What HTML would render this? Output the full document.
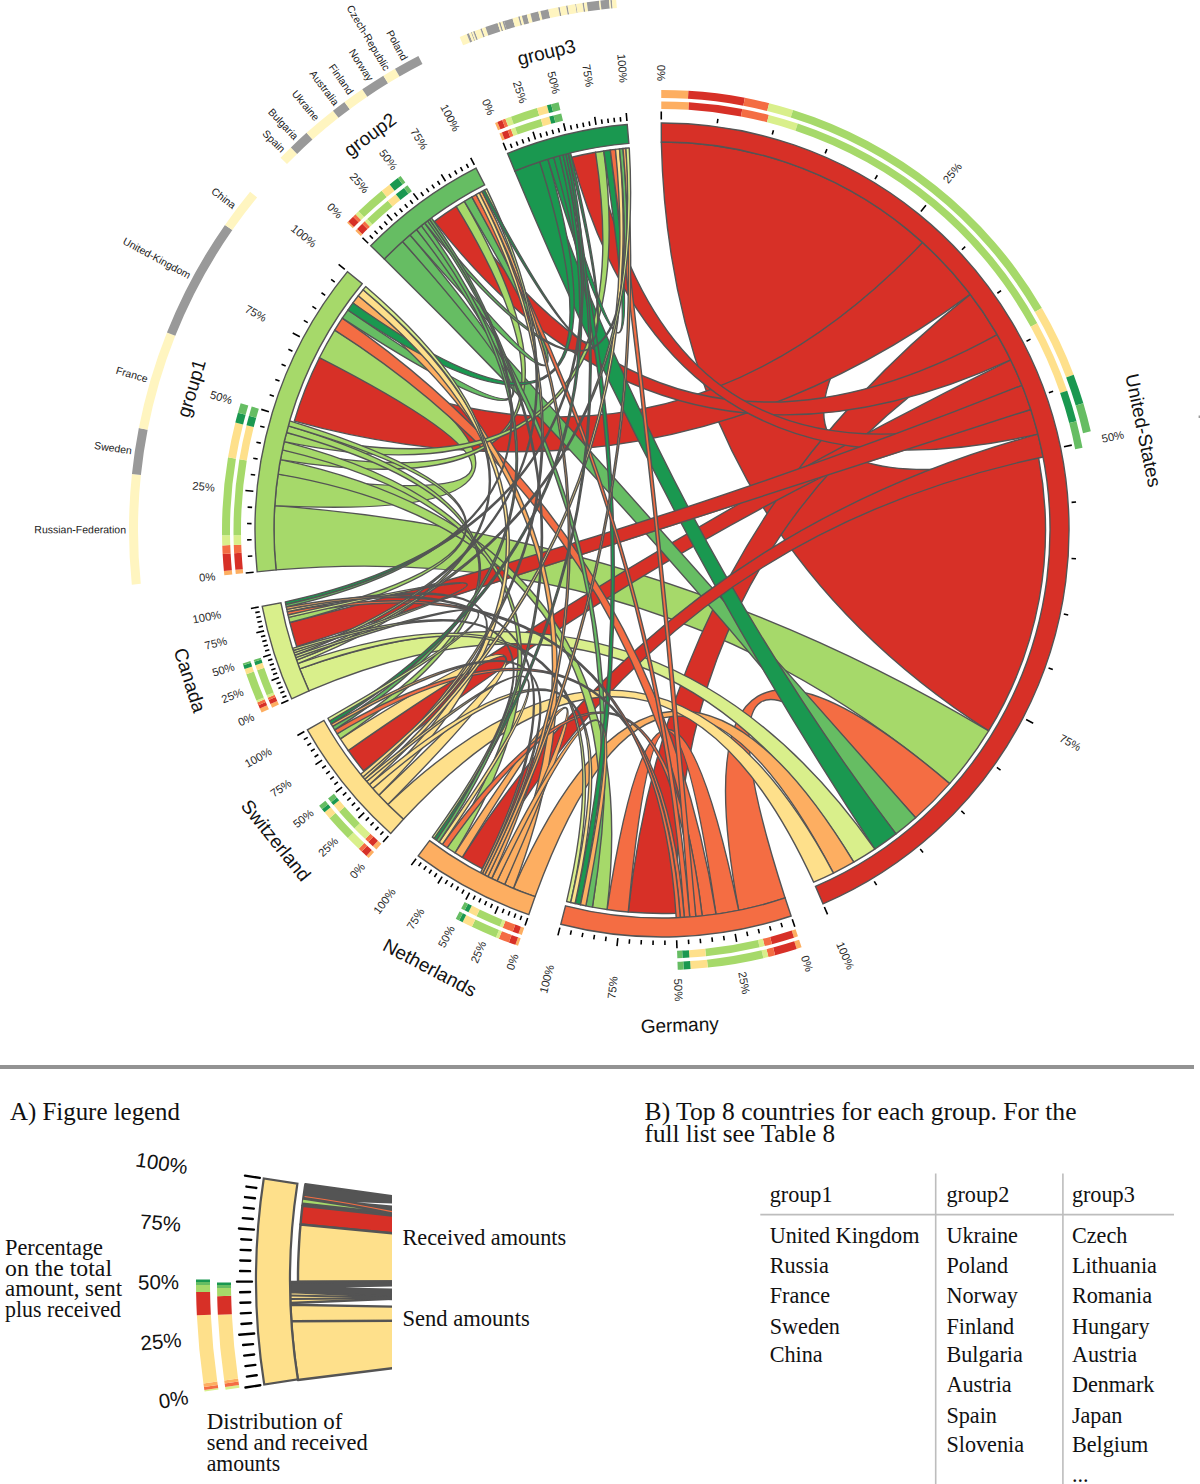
<!DOCTYPE html>
<html><head><meta charset="utf-8"><style>
html,body{margin:0;padding:0;background:#fff;}
body{width:1200px;height:1484px;position:relative;overflow:hidden;}
#chart{position:absolute;left:0;top:0;}
.hr{position:absolute;left:0;top:1065px;width:1194px;height:4px;background:#939393;}
.serif{font-family:"Liberation Serif",serif;color:#111;position:absolute;white-space:nowrap;}
</style></head><body>
<svg id="chart" width="1200" height="1060" viewBox="0 0 1200 1060">
<g stroke="#545454" stroke-width="1.4" stroke-linejoin="round"><path id="US-US" d="M661.32,142.00 A388.00,388.00 0 0 1 922.63,242.57 Q677.93,521.01 1038.64,457.81 A383.50,383.50 0 0 1 988.64,730.95 Q670.15,525.32 661.32,142.00 Z" fill="#d73027"/><path id="US-G1" d="M922.63,242.57 A388.00,388.00 0 0 1 970.23,294.34 Q660.51,521.39 294.29,421.08 A383.50,383.50 0 0 1 319.39,357.69 Q659.95,518.51 922.63,242.57 Z" fill="#d73027"/><path id="G1-US" d="M276.06,569.88 A388.00,388.00 0 0 1 274.77,505.64 Q660.49,534.41 988.64,730.95 A383.50,383.50 0 0 1 949.67,783.61 Q659.54,537.34 276.06,569.88 Z" fill="#a6d96a"/><path id="US-DE" d="M970.23,294.34 A388.00,388.00 0 0 1 997.17,334.54 Q670.73,534.69 676.05,913.24 A383.50,383.50 0 0 1 628.24,912.01 Q668.86,533.66 970.23,294.34 Z" fill="#d73027"/><path id="DE-US" d="M785.11,897.95 A388.00,388.00 0 0 1 738.69,910.35 Q671.11,545.85 949.67,783.61 A383.50,383.50 0 0 1 915.61,817.67 Q671.42,546.39 785.11,897.95 Z" fill="#f46d43"/><path id="G1-G1" d="M274.77,505.64 A388.00,388.00 0 0 1 278.04,474.12 Q643.84,524.30 319.39,357.69 A383.50,383.50 0 0 1 334.73,330.08 Q644.14,524.39 274.77,505.64 Z" fill="#a6d96a"/><path id="US-CH" d="M1010.73,359.91 A388.00,388.00 0 0 1 1022.00,385.28 Q663.54,532.40 363.54,770.82 A383.50,383.50 0 0 1 348.24,750.51 Q662.87,531.26 1010.73,359.91 Z" fill="#d73027"/><path id="US-G2" d="M997.17,334.54 A388.00,388.00 0 0 1 1010.73,359.91 Q665.03,518.03 434.42,221.32 A383.50,383.50 0 0 1 456.23,206.38 Q665.23,517.02 997.17,334.54 Z" fill="#d73027"/><path id="G2-US" d="M384.31,259.01 A388.00,388.00 0 0 1 402.53,241.52 Q661.85,529.98 915.61,817.67 A383.50,383.50 0 0 1 895.99,833.84 Q660.91,530.82 384.31,259.01 Z" fill="#66bd63"/><path id="G3-US" d="M514.77,171.02 A388.00,388.00 0 0 1 539.66,161.79 Q664.79,528.39 895.99,833.84 A383.50,383.50 0 0 1 874.78,849.05 Q663.64,529.00 514.77,171.02 Z" fill="#1a9850"/><path id="US-G3" d="M1030.80,409.46 A388.00,388.00 0 0 1 1037.98,434.16 Q669.15,518.29 571.82,157.25 A383.50,383.50 0 0 1 595.54,152.30 Q669.56,517.54 1030.80,409.46 Z" fill="#d73027"/><path id="CA-US" d="M308.94,690.90 A388.00,388.00 0 0 1 299.70,668.86 Q658.26,541.45 874.78,849.05 A383.50,383.50 0 0 1 853.75,862.12 Q657.97,542.33 308.94,690.90 Z" fill="#d9ef8b"/><path id="US-CA" d="M1022.00,385.28 A388.00,388.00 0 0 1 1030.80,409.46 Q662.09,529.90 296.65,646.60 A383.50,383.50 0 0 1 289.83,622.52 Q661.70,528.69 1022.00,385.28 Z" fill="#d73027"/><path id="NL-US" d="M535.04,896.64 A388.00,388.00 0 0 1 513.39,888.41 Q663.08,547.26 853.75,862.12 A383.50,383.50 0 0 1 833.42,873.06 Q663.11,547.74 535.04,896.64 Z" fill="#fdae61"/><path id="US-NL" d="M1037.98,434.16 A388.00,388.00 0 0 1 1043.06,456.96 Q667.03,536.64 482.13,868.70 A383.50,383.50 0 0 1 462.25,857.37 Q666.41,535.79 1037.98,434.16 Z" fill="#d73027"/><path id="DE-DE" d="M738.69,910.35 A388.00,388.00 0 0 1 716.00,914.22 Q662.51,549.16 628.24,912.01 A383.50,383.50 0 0 1 607.04,909.54 Q662.54,549.00 738.69,910.35 Z" fill="#f46d43"/><path id="CH-US" d="M403.39,819.24 A388.00,388.00 0 0 1 387.88,804.60 Q659.43,545.44 833.42,873.06 A383.50,383.50 0 0 1 813.69,882.22 Q659.33,546.04 403.39,819.24 Z" fill="#fee08b"/><path id="G1-DE" d="M278.04,474.12 A388.00,388.00 0 0 1 280.44,459.63 Q651.09,537.73 607.04,909.54 A383.50,383.50 0 0 1 592.44,907.14 Q650.66,538.03 278.04,474.12 Z" fill="#a6d96a"/><path id="DE-G1" d="M716.00,914.22 A388.00,388.00 0 0 1 702.22,915.91 Q654.82,534.65 334.73,330.08 A383.50,383.50 0 0 1 342.32,318.16 Q655.36,534.31 716.00,914.22 Z" fill="#f46d43"/><path id="CH-CH" d="M387.88,804.60 A388.00,388.00 0 0 1 378.79,795.21 Q647.08,542.14 348.24,750.51 A383.50,383.50 0 0 1 340.37,738.87 Q647.11,542.09 387.88,804.60 Z" fill="#fee08b"/><path id="G2-G1" d="M402.53,241.52 A388.00,388.00 0 0 1 410.07,234.92 Q647.71,517.33 342.32,318.16 A383.50,383.50 0 0 1 347.86,310.03 Q647.66,517.29 402.53,241.52 Z" fill="#66bd63"/><path id="G1-G2" d="M280.44,459.63 A388.00,388.00 0 0 1 282.35,449.93 Q647.36,519.91 456.23,206.38 A383.50,383.50 0 0 1 464.37,201.35 Q647.52,520.02 280.44,459.63 Z" fill="#a6d96a"/><path id="NL-G1" d="M513.39,888.41 A388.00,388.00 0 0 1 504.62,884.65 Q650.34,533.19 352.93,302.96 A383.50,383.50 0 0 1 358.32,295.80 Q650.69,533.11 513.39,888.41 Z" fill="#fdae61"/><path id="G1-NL" d="M282.35,449.93 A388.00,388.00 0 0 1 284.21,441.60 Q647.38,535.86 455.10,852.90 A383.50,383.50 0 0 1 447.22,847.71 Q647.14,535.94 282.35,449.93 Z" fill="#a6d96a"/><path id="G1-G3" d="M284.21,441.60 A388.00,388.00 0 0 1 286.44,432.52 Q650.95,518.12 595.54,152.30 A383.50,383.50 0 0 1 603.79,150.94 Q651.10,518.31 284.21,441.60 Z" fill="#a6d96a"/><path id="G3-G1" d="M539.66,161.79 A388.00,388.00 0 0 1 547.85,159.17 Q651.29,515.23 347.86,310.03 A383.50,383.50 0 0 1 352.93,302.96 Q651.21,515.12 539.66,161.79 Z" fill="#1a9850"/><path id="G2-G2" d="M410.07,234.92 A388.00,388.00 0 0 1 416.56,229.49 Q650.92,514.27 464.37,201.35 A383.50,383.50 0 0 1 471.88,196.95 Q650.95,514.30 410.07,234.92 Z" fill="#66bd63"/><path id="NL-NL" d="M504.62,884.65 A388.00,388.00 0 0 1 496.98,881.16 Q652.88,546.96 462.25,857.37 A383.50,383.50 0 0 1 455.10,852.90 Q652.89,546.94 504.62,884.65 Z" fill="#fdae61"/><path id="CH-G1" d="M378.79,795.21 A388.00,388.00 0 0 1 372.76,788.61 Q647.18,530.61 358.32,295.80 A383.50,383.50 0 0 1 363.12,289.70 Q647.45,530.62 378.79,795.21 Z" fill="#fee08b"/><path id="G1-CH" d="M286.44,432.52 A388.00,388.00 0 0 1 288.24,425.85 Q644.62,532.62 340.37,738.87 A383.50,383.50 0 0 1 337.13,733.79 Q644.49,532.66 286.44,432.52 Z" fill="#a6d96a"/><path id="G2-DE" d="M416.56,229.49 A388.00,388.00 0 0 1 421.37,225.63 Q654.25,531.82 592.44,907.14 A383.50,383.50 0 0 1 585.87,905.87 Q653.96,531.88 416.56,229.49 Z" fill="#66bd63"/><path id="G3-G3" d="M547.85,159.17 A388.00,388.00 0 0 1 553.75,157.41 Q657.84,511.21 603.79,150.94 A383.50,383.50 0 0 1 610.28,150.00 Q657.85,511.23 547.85,159.17 Z" fill="#1a9850"/><path id="DE-NL" d="M702.22,915.91 A388.00,388.00 0 0 1 695.82,916.52 Q657.48,547.61 447.22,847.71 A383.50,383.50 0 0 1 442.36,844.37 Q657.51,547.51 702.22,915.91 Z" fill="#f46d43"/><path id="G3-DE" d="M553.75,157.41 A388.00,388.00 0 0 1 559.49,155.79 Q657.40,530.01 580.50,904.74 A383.50,383.50 0 0 1 575.08,903.52 Q657.12,530.02 553.75,157.41 Z" fill="#1a9850"/><path id="NL-DE" d="M496.98,881.16 A388.00,388.00 0 0 1 491.67,878.61 Q655.84,548.11 585.87,905.87 A383.50,383.50 0 0 1 580.50,904.74 Q655.84,548.15 496.98,881.16 Z" fill="#fdae61"/><path id="DE-G3" d="M695.82,916.52 A388.00,388.00 0 0 1 689.74,917.01 Q661.40,530.18 610.28,150.00 A383.50,383.50 0 0 1 615.46,149.33 Q661.68,530.15 695.82,916.52 Z" fill="#f46d43"/><path id="G1-CA" d="M288.24,425.85 A388.00,388.00 0 0 1 289.65,420.91 Q643.39,529.59 289.83,622.52 A383.50,383.50 0 0 1 288.60,617.44 Q643.32,529.58 288.24,425.85 Z" fill="#a6d96a"/><path id="DE-G2" d="M689.74,917.01 A388.00,388.00 0 0 1 684.33,917.36 Q657.81,531.36 471.88,196.95 A383.50,383.50 0 0 1 476.13,194.55 Q658.05,531.29 689.74,917.01 Z" fill="#f46d43"/><path id="CA-DE" d="M299.70,668.86 A388.00,388.00 0 0 1 297.70,663.53 Q650.61,542.65 570.72,902.48 A383.50,383.50 0 0 1 566.63,901.45 Q650.56,542.76 299.70,668.86 Z" fill="#d9ef8b"/><path id="CH-DE" d="M372.76,788.61 A388.00,388.00 0 0 1 369.26,784.65 Q652.51,545.70 575.08,903.52 A383.50,383.50 0 0 1 570.72,902.48 Q652.49,545.78 372.76,788.61 Z" fill="#fee08b"/><path id="DE-CH" d="M684.33,917.36 A388.00,388.00 0 0 1 680.28,917.57 Q654.34,544.78 337.13,733.79 A383.50,383.50 0 0 1 334.66,729.81 Q654.37,544.68 684.33,917.36 Z" fill="#f46d43"/><path id="G2-CH" d="M421.37,225.63 A388.00,388.00 0 0 1 424.73,223.01 Q647.88,527.32 334.66,729.81 A383.50,383.50 0 0 1 332.59,726.37 Q647.75,527.30 421.37,225.63 Z" fill="#66bd63"/><path id="CH-G3" d="M369.26,784.65 A388.00,388.00 0 0 1 366.61,781.57 Q653.45,526.77 615.46,149.33 A383.50,383.50 0 0 1 619.52,148.86 Q653.62,526.84 369.26,784.65 Z" fill="#fee08b"/><path id="CA-G1" d="M297.70,663.53 A388.00,388.00 0 0 1 296.50,660.22 Q645.39,527.25 363.12,289.70 A383.50,383.50 0 0 1 365.66,286.58 Q645.48,527.25 297.70,663.53 Z" fill="#d9ef8b"/><path id="DE-CA" d="M680.28,917.57 A388.00,388.00 0 0 1 676.22,917.74 Q653.01,541.82 288.03,614.96 A383.50,383.50 0 0 1 287.30,611.70 Q653.09,541.73 680.28,917.57 Z" fill="#f46d43"/><path id="NL-G2" d="M491.67,878.61 A388.00,388.00 0 0 1 487.85,876.72 Q653.08,530.24 479.30,192.81 A383.50,383.50 0 0 1 482.08,191.33 Q653.24,530.25 491.67,878.61 Z" fill="#fdae61"/><path id="G3-CH" d="M559.49,155.79 A388.00,388.00 0 0 1 563.02,154.84 Q651.26,525.47 331.23,724.06 A383.50,383.50 0 0 1 329.45,721.00 Q651.12,525.42 559.49,155.79 Z" fill="#1a9850"/><path id="G2-G3" d="M424.73,223.01 A388.00,388.00 0 0 1 427.58,220.82 Q655.08,512.74 619.52,148.86 A383.50,383.50 0 0 1 622.98,148.49 Q655.09,512.79 424.73,223.01 Z" fill="#66bd63"/><path id="CH-NL" d="M366.61,781.57 A388.00,388.00 0 0 1 364.64,779.25 Q649.08,544.09 442.36,844.37 A383.50,383.50 0 0 1 439.08,842.06 Q649.04,544.09 366.61,781.57 Z" fill="#fee08b"/><path id="NL-G3" d="M487.85,876.72 A388.00,388.00 0 0 1 484.65,875.09 Q656.59,529.09 622.98,148.49 A383.50,383.50 0 0 1 625.91,148.20 Q656.74,529.12 487.85,876.72 Z" fill="#fdae61"/><path id="CH-G2" d="M364.64,779.25 A388.00,388.00 0 0 1 362.83,777.06 Q649.87,527.79 476.13,194.55 A383.50,383.50 0 0 1 479.30,192.81 Q650.00,527.80 364.64,779.25 Z" fill="#fee08b"/><path id="CA-G3" d="M296.50,660.22 A388.00,388.00 0 0 1 295.60,657.66 Q651.94,523.65 625.91,148.20 A383.50,383.50 0 0 1 629.24,147.90 Q652.04,523.70 296.50,660.22 Z" fill="#d9ef8b"/><path id="G3-NL" d="M563.02,154.84 A388.00,388.00 0 0 1 565.90,154.09 Q653.96,528.36 436.53,840.22 A383.50,383.50 0 0 1 434.05,838.40 Q653.83,528.33 563.02,154.84 Z" fill="#1a9850"/><path id="CH-CA" d="M362.83,777.06 A388.00,388.00 0 0 1 360.60,774.33 Q645.10,538.15 287.30,611.70 A383.50,383.50 0 0 1 286.80,609.34 Q645.14,538.16 362.83,777.06 Z" fill="#fee08b"/><path id="CA-CH" d="M295.60,657.66 A388.00,388.00 0 0 1 294.77,655.23 Q644.51,537.91 329.45,721.00 A383.50,383.50 0 0 1 327.89,718.26 Q644.49,537.90 295.60,657.66 Z" fill="#d9ef8b"/><path id="G2-NL" d="M427.58,220.82 A388.00,388.00 0 0 1 429.58,219.32 Q650.62,530.03 439.08,842.06 A383.50,383.50 0 0 1 436.53,840.22 Q650.50,530.03 427.58,220.82 Z" fill="#66bd63"/><path id="NL-CH" d="M484.65,875.09 A388.00,388.00 0 0 1 482.30,873.88 Q649.27,543.51 332.59,726.37 A383.50,383.50 0 0 1 331.23,724.06 Q649.30,543.48 484.65,875.09 Z" fill="#fdae61"/><path id="CA-G2" d="M294.77,655.23 A388.00,388.00 0 0 1 293.94,652.79 Q648.36,524.57 484.33,190.14 A383.50,383.50 0 0 1 486.70,188.91 Q648.44,524.60 294.77,655.23 Z" fill="#d9ef8b"/><path id="G3-CA" d="M565.90,154.09 A388.00,388.00 0 0 1 568.27,153.49 Q650.25,522.45 285.83,604.62 A383.50,383.50 0 0 1 285.29,601.86 Q650.18,522.40 565.90,154.09 Z" fill="#1a9850"/><path id="G3-G2" d="M568.27,153.49 A388.00,388.00 0 0 1 570.57,152.93 Q655.22,512.11 482.08,191.33 A383.50,383.50 0 0 1 484.33,190.14 Q655.21,512.09 568.27,153.49 Z" fill="#1a9850"/><path id="CA-CA" d="M293.94,652.79 A388.00,388.00 0 0 1 293.20,650.54 Q643.45,535.20 288.60,617.44 A383.50,383.50 0 0 1 288.03,614.96 Q643.45,535.19 293.94,652.79 Z" fill="#d9ef8b"/><path id="G2-CA" d="M429.58,219.32 A388.00,388.00 0 0 1 431.48,217.90 Q646.84,524.12 286.31,606.98 A383.50,383.50 0 0 1 285.83,604.62 Q646.79,524.10 429.58,219.32 Z" fill="#66bd63"/><path id="NL-CA" d="M482.30,873.88 A388.00,388.00 0 0 1 480.44,872.90 Q648.08,540.56 286.80,609.34 A383.50,383.50 0 0 1 286.31,606.98 Q648.12,540.52 482.30,873.88 Z" fill="#fdae61"/><path id="CA-NL" d="M293.20,650.54 A388.00,388.00 0 0 1 292.49,648.35 Q647.06,540.67 434.05,838.40 A383.50,383.50 0 0 1 432.27,837.08 Q647.04,540.69 293.20,650.54 Z" fill="#d9ef8b"/></g>
<g stroke="#545454" stroke-width="1.4"><path d="M661.29,123.00 A407.00,407.00 0 0 1 822.99,903.81 L815.47,886.36 A388.00,388.00 0 0 0 661.32,142.00 Z" fill="#d73027"/><path d="M791.14,915.97 A407.00,407.00 0 0 1 560.78,924.21 L565.51,905.81 A388.00,388.00 0 0 0 785.11,897.95 Z" fill="#f46d43"/><path d="M528.82,914.59 A407.00,407.00 0 0 1 418.20,855.90 L429.58,840.68 A388.00,388.00 0 0 0 535.04,896.64 Z" fill="#fdae61"/><path d="M390.72,833.41 A407.00,407.00 0 0 1 307.42,729.80 L323.97,720.47 A388.00,388.00 0 0 0 403.39,819.24 Z" fill="#fee08b"/><path d="M291.65,698.78 A407.00,407.00 0 0 1 262.21,606.26 L280.87,602.70 A388.00,388.00 0 0 0 308.94,690.90 Z" fill="#d9ef8b"/><path d="M257.16,571.84 A407.00,407.00 0 0 1 347.50,271.66 L362.18,283.72 A388.00,388.00 0 0 0 276.06,569.88 Z" fill="#a6d96a"/><path d="M370.71,245.74 A407.00,407.00 0 0 1 475.96,168.01 L484.65,184.91 A388.00,388.00 0 0 0 384.31,259.01 Z" fill="#66bd63"/><path d="M507.56,153.44 A407.00,407.00 0 0 1 627.24,124.49 L628.86,143.42 A388.00,388.00 0 0 0 514.77,171.02 Z" fill="#1a9850"/></g>
<path d="M661.28,119.50L661.27,111.50 M717.29,123.24L717.89,118.78 M772.25,134.58L773.46,130.25 M825.16,153.32L826.95,149.19 M875.02,179.10L877.35,175.25 M920.89,211.43L925.94,205.22 M961.93,249.73L965.22,246.65 M997.36,293.26L1001.03,290.66 M1026.51,341.22L1030.51,339.15 M1048.86,392.70L1053.10,391.20 M1063.97,446.76L1071.80,445.13 M1071.57,502.37L1076.06,502.06 M1071.51,558.49L1076.00,558.80 M1063.80,614.09L1068.20,615.01 M1048.57,668.11L1052.81,669.62 M1026.12,719.55L1033.21,723.24 M996.86,767.44L1000.53,770.05 M961.34,810.90L964.62,813.98 M920.22,849.11L923.06,852.61 M874.28,881.35L876.61,885.20 M824.37,907.02L827.54,914.37 M792.25,919.29L794.79,926.87 M781.02,922.87L782.33,927.17 M769.70,926.12L770.88,930.46 M758.28,929.05L759.34,933.42 M746.79,931.65L747.72,936.05 M735.22,933.92L736.65,941.79 M723.60,935.85L724.27,940.30 M711.92,937.45L712.47,941.92 M700.20,938.72L700.62,943.20 M688.45,939.65L688.74,944.14 M676.68,940.24L676.97,948.23 M664.90,940.49L664.93,944.99 M653.12,940.40L653.02,944.90 M641.34,939.98L641.11,944.47 M629.58,939.22L629.22,943.70 M617.84,938.12L616.98,946.07 M606.15,936.68L605.53,941.14 M594.50,934.91L593.76,939.35 M582.90,932.81L582.03,937.22 M571.37,930.37L570.38,934.76 M559.91,927.60L557.92,935.35 M527.68,917.90L525.06,925.46 M521.70,915.78L520.16,920.01 M515.76,913.57L514.16,917.77 M509.85,911.26L508.19,915.44 M503.98,908.87L502.25,913.02 M498.15,906.38L494.96,913.72 M492.36,903.81L490.50,907.90 M486.60,901.14L484.68,905.21 M480.89,898.39L478.91,902.43 M475.22,895.55L473.17,899.55 M469.60,892.62L465.85,899.68 M464.02,889.60L461.85,893.55 M458.49,886.50L456.26,890.41 M453.01,883.32L450.72,887.19 M447.58,880.05L445.22,883.88 M442.19,876.69L437.91,883.45 M436.87,873.26L434.40,877.02 M431.59,869.74L429.06,873.46 M426.37,866.14L423.79,869.82 M421.21,862.46L418.57,866.10 M416.10,858.70L411.31,865.11 M388.39,836.02L383.06,841.98 M383.40,831.49L380.35,834.79 M378.50,826.88L375.39,830.13 M373.66,822.19L370.50,825.39 M368.91,817.42L365.70,820.57 M364.23,812.57L358.43,818.08 M359.64,807.65L356.32,810.69 M355.12,802.65L351.76,805.64 M350.69,797.58L347.28,800.51 M346.34,792.43L342.88,795.31 M342.08,787.22L335.85,792.23 M337.91,781.94L334.35,784.70 M333.82,776.59L330.22,779.29 M329.81,771.17L326.17,773.81 M325.90,765.69L322.22,768.27 M322.08,760.14L315.46,764.63 M318.35,754.53L314.58,757.00 M314.71,748.87L310.91,751.27 M311.17,743.14L307.32,745.48 M307.72,737.36L303.84,739.63 M304.37,731.52L297.40,735.44 M288.46,700.23L281.18,703.55 M286.45,695.75L282.34,697.57 M284.50,691.25L280.36,693.02 M282.60,686.73L278.44,688.45 M280.75,682.18L276.57,683.85 M278.96,677.61L271.49,680.49 M277.22,673.02L273.00,674.59 M275.54,668.41L271.30,669.93 M273.91,663.78L269.66,665.25 M272.34,659.13L268.07,660.55 M270.82,654.46L263.20,656.89 M269.36,649.78L265.06,651.09 M267.96,645.08L263.64,646.34 M266.61,640.36L262.28,641.57 M265.32,635.62L260.97,636.78 M264.09,630.87L256.33,632.84 M262.91,626.11L258.53,627.16 M261.79,621.33L257.40,622.33 M260.73,616.54L256.33,617.49 M259.72,611.74L255.31,612.63 M258.77,606.92L250.91,608.42 M253.67,572.20L245.72,573.02 M252.33,556.03L247.83,556.31 M251.62,539.81L247.12,539.92 M251.55,523.59L247.05,523.52 M252.12,507.37L247.63,507.12 M253.34,491.19L245.37,490.43 M255.19,475.07L250.73,474.47 M257.68,459.03L253.25,458.26 M260.80,443.11L256.40,442.16 M264.55,427.32L260.19,426.20 M268.92,411.70L261.26,409.39 M273.90,396.25L269.65,394.79 M279.49,381.02L275.30,379.39 M285.68,366.02L281.55,364.22 M292.45,351.27L288.40,349.31 M299.80,336.81L292.74,333.04 M307.72,322.64L303.84,320.37 M316.19,308.80L312.40,306.38 M325.20,295.31L321.51,292.74 M334.74,282.18L331.16,279.47 M344.79,269.44L338.61,264.37 M368.21,243.30L362.48,237.71 M372.87,238.60L369.71,235.40 M377.62,233.97L374.50,230.72 M382.43,229.41L379.37,226.12 M387.32,224.94L384.31,221.59 M392.28,220.54L387.03,214.51 M397.31,216.23L394.41,212.79 M402.41,212.00L399.57,208.51 M407.58,207.85L404.79,204.32 M412.81,203.78L410.08,200.21 M418.11,199.80L413.36,193.37 M423.48,195.91L420.86,192.25 M428.90,192.10L426.34,188.40 M434.39,188.38L431.89,184.64 M439.93,184.75L437.50,180.97 M445.53,181.21L441.31,174.42 M451.19,177.76L448.88,173.90 M456.91,174.41L454.66,170.51 M462.67,171.14L460.49,167.21 M468.49,167.97L466.37,164.00 M474.36,164.89L470.70,157.78 M506.23,150.20L503.20,142.80 M512.02,147.88L510.37,143.69 M517.84,145.65L516.26,141.43 M523.69,143.50L522.17,139.27 M529.57,141.45L528.12,137.19 M535.49,139.48L533.02,131.87 M541.43,137.60L540.11,133.30 M547.41,135.82L546.15,131.50 M553.40,134.12L552.21,129.79 M559.43,132.52L558.30,128.16 M565.47,131.01L563.59,123.23 M571.54,129.59L570.55,125.20 M577.63,128.26L576.71,123.86 M583.74,127.03L582.89,122.61 M589.87,125.89L589.08,121.46 M596.02,124.84L594.73,116.94 M602.17,123.88L601.52,119.43 M608.35,123.02L607.76,118.56 M614.53,122.25L614.01,117.78 M620.73,121.58L620.28,117.10 M626.94,121.00L626.25,113.03" stroke="#000" stroke-width="1.6" fill="none"/>
<g><path d="M661.25,101.50 A428.50,428.50 0 0 1 689.01,102.35 L688.54,109.84 A421.00,421.00 0 0 0 661.27,109.00 Z" fill="#fdae61"/><path d="M689.01,102.35 A428.50,428.50 0 0 1 742.34,109.10 L740.93,116.46 A421.00,421.00 0 0 0 688.54,109.84 Z" fill="#d73027"/><path d="M742.34,109.10 A428.50,428.50 0 0 1 768.86,115.04 L766.99,122.30 A421.00,421.00 0 0 0 740.93,116.46 Z" fill="#f46d43"/><path d="M768.86,115.04 A428.50,428.50 0 0 1 797.76,123.58 L795.39,130.69 A421.00,421.00 0 0 0 766.99,122.30 Z" fill="#d9ef8b"/><path d="M797.76,123.58 A428.50,428.50 0 0 1 1037.30,323.22 L1030.73,326.83 A421.00,421.00 0 0 0 795.39,130.69 Z" fill="#a6d96a"/><path d="M1037.30,323.22 A428.50,428.50 0 0 1 1067.21,390.67 L1060.12,393.11 A421.00,421.00 0 0 0 1030.73,326.83 Z" fill="#fee08b"/><path d="M1067.21,390.67 A428.50,428.50 0 0 1 1076.46,421.21 L1069.20,423.11 A421.00,421.00 0 0 0 1060.12,393.11 Z" fill="#1a9850"/><path d="M1076.46,421.21 A428.50,428.50 0 0 1 1082.52,447.70 L1075.16,449.14 A421.00,421.00 0 0 0 1069.20,423.11 Z" fill="#66bd63"/><path d="M661.23,90.00 A440.00,440.00 0 0 1 688.47,90.80 L687.99,98.78 A432.00,432.00 0 0 0 661.25,98.00 Z" fill="#fdae61"/><path d="M688.47,90.80 A440.00,440.00 0 0 1 744.86,97.87 L743.35,105.73 A432.00,432.00 0 0 0 687.99,98.78 Z" fill="#d73027"/><path d="M744.86,97.87 A440.00,440.00 0 0 1 769.15,103.25 L767.20,111.01 A432.00,432.00 0 0 0 743.35,105.73 Z" fill="#f46d43"/><path d="M769.15,103.25 A440.00,440.00 0 0 1 793.10,109.99 L790.72,117.62 A432.00,432.00 0 0 0 767.20,111.01 Z" fill="#d9ef8b"/><path d="M793.10,109.99 A440.00,440.00 0 0 1 1041.85,307.93 L1034.94,311.96 A432.00,432.00 0 0 0 790.72,117.62 Z" fill="#a6d96a"/><path d="M1041.85,307.93 A440.00,440.00 0 0 1 1073.68,374.69 L1066.19,377.52 A432.00,432.00 0 0 0 1034.94,311.96 Z" fill="#fee08b"/><path d="M1073.68,374.69 A440.00,440.00 0 0 1 1083.37,403.31 L1075.70,405.61 A432.00,432.00 0 0 0 1066.19,377.52 Z" fill="#1a9850"/><path d="M1083.37,403.31 A440.00,440.00 0 0 1 1090.80,431.36 L1083.01,433.16 A432.00,432.00 0 0 0 1075.70,405.61 Z" fill="#66bd63"/><path d="M797.97,936.36 A428.50,428.50 0 0 1 793.99,937.67 L791.68,930.53 A421.00,421.00 0 0 0 795.59,929.24 Z" fill="#fdae61"/><path d="M793.99,937.67 A428.50,428.50 0 0 1 772.02,944.14 L770.09,936.89 A421.00,421.00 0 0 0 791.68,930.53 Z" fill="#d73027"/><path d="M772.02,944.14 A428.50,428.50 0 0 1 764.62,946.03 L762.83,938.75 A421.00,421.00 0 0 0 770.09,936.89 Z" fill="#f46d43"/><path d="M764.62,946.03 A428.50,428.50 0 0 1 759.59,947.24 L757.88,939.94 A421.00,421.00 0 0 0 762.83,938.75 Z" fill="#d9ef8b"/><path d="M759.59,947.24 A428.50,428.50 0 0 1 705.95,956.24 L705.18,948.78 A421.00,421.00 0 0 0 757.88,939.94 Z" fill="#a6d96a"/><path d="M705.95,956.24 A428.50,428.50 0 0 1 689.38,957.62 L688.90,950.14 A421.00,421.00 0 0 0 705.18,948.78 Z" fill="#fee08b"/><path d="M689.38,957.62 A428.50,428.50 0 0 1 682.50,958.01 L682.14,950.52 A421.00,421.00 0 0 0 688.90,950.14 Z" fill="#1a9850"/><path d="M682.50,958.01 A428.50,428.50 0 0 1 677.33,958.23 L677.06,950.73 A421.00,421.00 0 0 0 682.14,950.52 Z" fill="#66bd63"/><path d="M801.61,947.26 A440.00,440.00 0 0 1 796.70,948.88 L794.25,941.26 A432.00,432.00 0 0 0 799.08,939.68 Z" fill="#fdae61"/><path d="M796.70,948.88 A440.00,440.00 0 0 1 775.15,955.20 L773.09,947.47 A432.00,432.00 0 0 0 794.25,941.26 Z" fill="#d73027"/><path d="M775.15,955.20 A440.00,440.00 0 0 1 768.42,956.94 L766.49,949.17 A432.00,432.00 0 0 0 773.09,947.47 Z" fill="#f46d43"/><path d="M768.42,956.94 A440.00,440.00 0 0 1 763.40,958.16 L761.55,950.37 A432.00,432.00 0 0 0 766.49,949.17 Z" fill="#d9ef8b"/><path d="M763.40,958.16 A440.00,440.00 0 0 1 707.82,967.61 L706.99,959.65 A432.00,432.00 0 0 0 761.55,950.37 Z" fill="#a6d96a"/><path d="M707.82,967.61 A440.00,440.00 0 0 1 690.60,969.07 L690.08,961.09 A432.00,432.00 0 0 0 706.99,959.65 Z" fill="#fee08b"/><path d="M690.60,969.07 A440.00,440.00 0 0 1 683.67,969.47 L683.27,961.48 A432.00,432.00 0 0 0 690.08,961.09 Z" fill="#1a9850"/><path d="M683.67,969.47 A440.00,440.00 0 0 1 677.74,969.72 L677.45,961.72 A432.00,432.00 0 0 0 683.27,961.48 Z" fill="#66bd63"/><path d="M521.79,934.91 A428.50,428.50 0 0 1 518.41,933.73 L520.93,926.66 A421.00,421.00 0 0 0 524.24,927.82 Z" fill="#fdae61"/><path d="M518.41,933.73 A428.50,428.50 0 0 1 512.69,931.65 L515.31,924.62 A421.00,421.00 0 0 0 520.93,926.66 Z" fill="#d73027"/><path d="M512.69,931.65 A428.50,428.50 0 0 1 502.69,927.78 L505.48,920.82 A421.00,421.00 0 0 0 515.31,924.62 Z" fill="#f46d43"/><path d="M502.69,927.78 A428.50,428.50 0 0 1 499.68,926.57 L502.52,919.63 A421.00,421.00 0 0 0 505.48,920.82 Z" fill="#d9ef8b"/><path d="M499.68,926.57 A428.50,428.50 0 0 1 476.46,916.25 L479.71,909.49 A421.00,421.00 0 0 0 502.52,919.63 Z" fill="#a6d96a"/><path d="M476.46,916.25 A428.50,428.50 0 0 1 468.45,912.30 L471.84,905.60 A421.00,421.00 0 0 0 479.71,909.49 Z" fill="#fee08b"/><path d="M468.45,912.30 A428.50,428.50 0 0 1 464.62,910.33 L468.07,903.68 A421.00,421.00 0 0 0 471.84,905.60 Z" fill="#1a9850"/><path d="M464.62,910.33 A428.50,428.50 0 0 1 461.16,908.52 L464.68,901.89 A421.00,421.00 0 0 0 468.07,903.68 Z" fill="#66bd63"/><path d="M518.02,945.78 A440.00,440.00 0 0 1 515.39,944.86 L518.06,937.31 A432.00,432.00 0 0 0 520.64,938.22 Z" fill="#fdae61"/><path d="M515.39,944.86 A440.00,440.00 0 0 1 508.88,942.50 L511.66,935.00 A432.00,432.00 0 0 0 518.06,937.31 Z" fill="#d73027"/><path d="M508.88,942.50 A440.00,440.00 0 0 1 498.86,938.64 L501.82,931.21 A432.00,432.00 0 0 0 511.66,935.00 Z" fill="#f46d43"/><path d="M498.86,938.64 A440.00,440.00 0 0 1 495.96,937.47 L498.98,930.06 A432.00,432.00 0 0 0 501.82,931.21 Z" fill="#d9ef8b"/><path d="M495.96,937.47 A440.00,440.00 0 0 1 471.85,926.79 L475.31,919.58 A432.00,432.00 0 0 0 498.98,930.06 Z" fill="#a6d96a"/><path d="M471.85,926.79 A440.00,440.00 0 0 1 462.53,922.19 L466.15,915.06 A432.00,432.00 0 0 0 475.31,919.58 Z" fill="#fee08b"/><path d="M462.53,922.19 A440.00,440.00 0 0 1 459.14,920.45 L462.83,913.35 A432.00,432.00 0 0 0 466.15,915.06 Z" fill="#1a9850"/><path d="M459.14,920.45 A440.00,440.00 0 0 1 455.77,918.68 L459.52,911.61 A432.00,432.00 0 0 0 462.83,913.35 Z" fill="#66bd63"/><path d="M376.39,849.44 A428.50,428.50 0 0 1 372.85,846.23 L377.91,840.70 A421.00,421.00 0 0 0 381.39,843.85 Z" fill="#fdae61"/><path d="M372.85,846.23 A428.50,428.50 0 0 1 368.32,842.03 L373.46,836.57 A421.00,421.00 0 0 0 377.91,840.70 Z" fill="#d73027"/><path d="M368.32,842.03 A428.50,428.50 0 0 1 365.21,839.08 L370.41,833.67 A421.00,421.00 0 0 0 373.46,836.57 Z" fill="#f46d43"/><path d="M365.21,839.08 A428.50,428.50 0 0 1 354.46,828.38 L359.84,823.16 A421.00,421.00 0 0 0 370.41,833.67 Z" fill="#d9ef8b"/><path d="M354.46,828.38 A428.50,428.50 0 0 1 339.06,811.64 L344.71,806.71 A421.00,421.00 0 0 0 359.84,823.16 Z" fill="#a6d96a"/><path d="M339.06,811.64 A428.50,428.50 0 0 1 333.49,805.12 L339.24,800.31 A421.00,421.00 0 0 0 344.71,806.71 Z" fill="#fee08b"/><path d="M333.49,805.12 A428.50,428.50 0 0 1 331.07,802.20 L336.86,797.44 A421.00,421.00 0 0 0 339.24,800.31 Z" fill="#1a9850"/><path d="M331.07,802.20 A428.50,428.50 0 0 1 328.05,798.50 L333.90,793.80 A421.00,421.00 0 0 0 336.86,797.44 Z" fill="#66bd63"/><path d="M368.73,858.01 A440.00,440.00 0 0 1 366.36,855.88 L371.74,849.96 A432.00,432.00 0 0 0 374.06,852.05 Z" fill="#fdae61"/><path d="M366.36,855.88 A440.00,440.00 0 0 1 361.71,851.60 L367.17,845.76 A432.00,432.00 0 0 0 371.74,849.96 Z" fill="#d73027"/><path d="M361.71,851.60 A440.00,440.00 0 0 1 358.77,848.83 L364.28,843.03 A432.00,432.00 0 0 0 367.17,845.76 Z" fill="#f46d43"/><path d="M358.77,848.83 A440.00,440.00 0 0 1 347.84,838.06 L353.55,832.46 A432.00,432.00 0 0 0 364.28,843.03 Z" fill="#d9ef8b"/><path d="M347.84,838.06 A440.00,440.00 0 0 1 329.48,818.15 L335.53,812.91 A432.00,432.00 0 0 0 353.55,832.46 Z" fill="#a6d96a"/><path d="M329.48,818.15 A440.00,440.00 0 0 1 324.52,812.32 L330.65,807.19 A432.00,432.00 0 0 0 335.53,812.91 Z" fill="#fee08b"/><path d="M324.52,812.32 A440.00,440.00 0 0 1 321.94,809.21 L328.12,804.13 A432.00,432.00 0 0 0 330.65,807.19 Z" fill="#1a9850"/><path d="M321.94,809.21 A440.00,440.00 0 0 1 319.09,805.71 L325.33,800.69 A432.00,432.00 0 0 0 328.12,804.13 Z" fill="#66bd63"/><path d="M272.08,707.70 A428.50,428.50 0 0 1 270.44,704.06 L277.30,701.01 A421.00,421.00 0 0 0 278.91,704.59 Z" fill="#fdae61"/><path d="M270.44,704.06 A428.50,428.50 0 0 1 268.66,699.98 L275.54,697.00 A421.00,421.00 0 0 0 277.30,701.01 Z" fill="#d73027"/><path d="M268.66,699.98 A428.50,428.50 0 0 1 267.67,697.67 L274.57,694.74 A421.00,421.00 0 0 0 275.54,697.00 Z" fill="#f46d43"/><path d="M267.67,697.67 A428.50,428.50 0 0 1 266.69,695.36 L273.61,692.47 A421.00,421.00 0 0 0 274.57,694.74 Z" fill="#d9ef8b"/><path d="M266.69,695.36 A428.50,428.50 0 0 1 257.12,670.31 L264.21,667.86 A421.00,421.00 0 0 0 273.61,692.47 Z" fill="#a6d96a"/><path d="M257.12,670.31 A428.50,428.50 0 0 1 255.36,665.13 L262.48,662.76 A421.00,421.00 0 0 0 264.21,667.86 Z" fill="#fee08b"/><path d="M255.36,665.13 A428.50,428.50 0 0 1 254.28,661.82 L261.42,659.52 A421.00,421.00 0 0 0 262.48,662.76 Z" fill="#1a9850"/><path d="M254.28,661.82 A428.50,428.50 0 0 1 253.67,659.92 L260.82,657.65 A421.00,421.00 0 0 0 261.42,659.52 Z" fill="#66bd63"/><path d="M261.62,712.47 A440.00,440.00 0 0 1 259.79,708.39 L267.10,705.15 A432.00,432.00 0 0 0 268.90,709.15 Z" fill="#fdae61"/><path d="M259.79,708.39 A440.00,440.00 0 0 1 258.39,705.21 L265.73,702.03 A432.00,432.00 0 0 0 267.10,705.15 Z" fill="#d73027"/><path d="M258.39,705.21 A440.00,440.00 0 0 1 257.21,702.46 L264.57,699.33 A432.00,432.00 0 0 0 265.73,702.03 Z" fill="#f46d43"/><path d="M257.21,702.46 A440.00,440.00 0 0 1 256.43,700.62 L263.80,697.52 A432.00,432.00 0 0 0 264.57,699.33 Z" fill="#d9ef8b"/><path d="M256.43,700.62 A440.00,440.00 0 0 1 246.31,674.23 L253.87,671.61 A432.00,432.00 0 0 0 263.80,697.52 Z" fill="#a6d96a"/><path d="M246.31,674.23 A440.00,440.00 0 0 1 244.55,669.06 L252.14,666.53 A432.00,432.00 0 0 0 253.87,671.61 Z" fill="#fee08b"/><path d="M244.55,669.06 A440.00,440.00 0 0 1 243.32,665.31 L250.93,662.85 A432.00,432.00 0 0 0 252.14,666.53 Z" fill="#1a9850"/><path d="M243.32,665.31 A440.00,440.00 0 0 1 242.71,663.41 L250.34,660.98 A432.00,432.00 0 0 0 250.93,662.85 Z" fill="#66bd63"/><path d="M235.77,574.05 A428.50,428.50 0 0 1 235.36,569.83 L242.82,569.13 A421.00,421.00 0 0 0 243.23,573.28 Z" fill="#fdae61"/><path d="M235.36,569.83 A428.50,428.50 0 0 1 234.13,553.28 L241.62,552.87 A421.00,421.00 0 0 0 242.82,569.13 Z" fill="#d73027"/><path d="M234.13,553.28 A428.50,428.50 0 0 1 233.76,544.99 L241.26,544.72 A421.00,421.00 0 0 0 241.62,552.87 Z" fill="#f46d43"/><path d="M233.76,544.99 A428.50,428.50 0 0 1 233.53,535.16 L241.03,535.07 A421.00,421.00 0 0 0 241.26,544.72 Z" fill="#d9ef8b"/><path d="M233.53,535.16 A428.50,428.50 0 0 1 239.38,459.26 L246.78,460.50 A421.00,421.00 0 0 0 241.03,535.07 Z" fill="#a6d96a"/><path d="M239.38,459.26 A428.50,428.50 0 0 1 246.49,425.28 L253.77,427.12 A421.00,421.00 0 0 0 246.78,460.50 Z" fill="#fee08b"/><path d="M246.49,425.28 A428.50,428.50 0 0 1 249.00,415.78 L256.23,417.78 A421.00,421.00 0 0 0 253.77,427.12 Z" fill="#1a9850"/><path d="M249.00,415.78 A428.50,428.50 0 0 1 251.68,406.51 L258.86,408.67 A421.00,421.00 0 0 0 256.23,417.78 Z" fill="#66bd63"/><path d="M224.33,575.23 A440.00,440.00 0 0 1 223.91,570.90 L231.87,570.16 A432.00,432.00 0 0 0 232.29,574.41 Z" fill="#fdae61"/><path d="M223.91,570.90 A440.00,440.00 0 0 1 222.65,553.90 L230.64,553.47 A432.00,432.00 0 0 0 231.87,570.16 Z" fill="#d73027"/><path d="M222.65,553.90 A440.00,440.00 0 0 1 222.27,545.39 L230.26,545.11 A432.00,432.00 0 0 0 230.64,553.47 Z" fill="#f46d43"/><path d="M222.27,545.39 A440.00,440.00 0 0 1 222.03,535.30 L230.03,535.21 A432.00,432.00 0 0 0 230.26,545.11 Z" fill="#d9ef8b"/><path d="M222.03,535.30 A440.00,440.00 0 0 1 228.04,457.36 L235.93,458.68 A432.00,432.00 0 0 0 230.03,535.21 Z" fill="#a6d96a"/><path d="M228.04,457.36 A440.00,440.00 0 0 1 235.34,422.47 L243.10,424.43 A432.00,432.00 0 0 0 235.93,458.68 Z" fill="#fee08b"/><path d="M235.34,422.47 A440.00,440.00 0 0 1 237.92,412.72 L245.63,414.85 A432.00,432.00 0 0 0 243.10,424.43 Z" fill="#1a9850"/><path d="M237.92,412.72 A440.00,440.00 0 0 1 240.67,403.19 L248.33,405.50 A432.00,432.00 0 0 0 245.63,414.85 Z" fill="#66bd63"/><path d="M355.33,230.73 A428.50,428.50 0 0 1 357.11,228.91 L362.45,234.18 A421.00,421.00 0 0 0 360.69,235.97 Z" fill="#fdae61"/><path d="M357.11,228.91 A428.50,428.50 0 0 1 362.28,223.76 L367.53,229.12 A421.00,421.00 0 0 0 362.45,234.18 Z" fill="#d73027"/><path d="M362.28,223.76 A428.50,428.50 0 0 1 364.75,221.37 L369.95,226.77 A421.00,421.00 0 0 0 367.53,229.12 Z" fill="#f46d43"/><path d="M364.75,221.37 A428.50,428.50 0 0 1 367.24,218.99 L372.40,224.43 A421.00,421.00 0 0 0 369.95,226.77 Z" fill="#d9ef8b"/><path d="M367.24,218.99 A428.50,428.50 0 0 1 387.82,200.70 L392.62,206.47 A421.00,421.00 0 0 0 372.40,224.43 Z" fill="#a6d96a"/><path d="M387.82,200.70 A428.50,428.50 0 0 1 395.83,194.19 L400.49,200.07 A421.00,421.00 0 0 0 392.62,206.47 Z" fill="#fee08b"/><path d="M395.83,194.19 A428.50,428.50 0 0 1 404.00,187.88 L408.51,193.87 A421.00,421.00 0 0 0 400.49,200.07 Z" fill="#1a9850"/><path d="M404.00,187.88 A428.50,428.50 0 0 1 407.42,185.33 L411.88,191.36 A421.00,421.00 0 0 0 408.51,193.87 Z" fill="#66bd63"/><path d="M347.10,222.70 A440.00,440.00 0 0 1 348.29,221.48 L353.99,227.09 A432.00,432.00 0 0 0 352.82,228.28 Z" fill="#fdae61"/><path d="M348.29,221.48 A440.00,440.00 0 0 1 353.11,216.65 L358.72,222.35 A432.00,432.00 0 0 0 353.99,227.09 Z" fill="#d73027"/><path d="M353.11,216.65 A440.00,440.00 0 0 1 355.54,214.27 L361.12,220.01 A432.00,432.00 0 0 0 358.72,222.35 Z" fill="#f46d43"/><path d="M355.54,214.27 A440.00,440.00 0 0 1 358.62,211.32 L364.13,217.11 A432.00,432.00 0 0 0 361.12,220.01 Z" fill="#d9ef8b"/><path d="M358.62,211.32 A440.00,440.00 0 0 1 381.67,190.86 L386.77,197.03 A432.00,432.00 0 0 0 364.13,217.11 Z" fill="#a6d96a"/><path d="M381.67,190.86 A440.00,440.00 0 0 1 389.69,184.39 L394.64,190.67 A432.00,432.00 0 0 0 386.77,197.03 Z" fill="#fee08b"/><path d="M389.69,184.39 A440.00,440.00 0 0 1 397.85,178.11 L402.65,184.51 A432.00,432.00 0 0 0 394.64,190.67 Z" fill="#1a9850"/><path d="M397.85,178.11 A440.00,440.00 0 0 1 400.59,176.07 L405.34,182.51 A432.00,432.00 0 0 0 402.65,184.51 Z" fill="#66bd63"/><path d="M499.40,133.55 A428.50,428.50 0 0 1 501.87,132.55 L504.67,139.50 A421.00,421.00 0 0 0 502.25,140.49 Z" fill="#fdae61"/><path d="M501.87,132.55 A428.50,428.50 0 0 1 507.61,130.28 L510.31,137.28 A421.00,421.00 0 0 0 504.67,139.50 Z" fill="#d73027"/><path d="M507.61,130.28 A428.50,428.50 0 0 1 510.88,129.03 L513.53,136.05 A421.00,421.00 0 0 0 510.31,137.28 Z" fill="#f46d43"/><path d="M510.88,129.03 A428.50,428.50 0 0 1 515.02,127.50 L517.60,134.54 A421.00,421.00 0 0 0 513.53,136.05 Z" fill="#d9ef8b"/><path d="M515.02,127.50 A428.50,428.50 0 0 1 540.86,118.98 L542.98,126.17 A421.00,421.00 0 0 0 517.60,134.54 Z" fill="#a6d96a"/><path d="M540.86,118.98 A428.50,428.50 0 0 1 549.29,116.59 L551.27,123.82 A421.00,421.00 0 0 0 542.98,126.17 Z" fill="#fee08b"/><path d="M549.29,116.59 A428.50,428.50 0 0 1 553.56,115.45 L555.46,122.70 A421.00,421.00 0 0 0 551.27,123.82 Z" fill="#1a9850"/><path d="M553.56,115.45 A428.50,428.50 0 0 1 561.24,113.51 L563.01,120.80 A421.00,421.00 0 0 0 555.46,122.70 Z" fill="#66bd63"/><path d="M495.04,122.91 A440.00,440.00 0 0 1 497.39,121.95 L500.39,129.37 A432.00,432.00 0 0 0 498.07,130.31 Z" fill="#fdae61"/><path d="M497.39,121.95 A440.00,440.00 0 0 1 502.18,120.05 L505.09,127.51 A432.00,432.00 0 0 0 500.39,129.37 Z" fill="#d73027"/><path d="M502.18,120.05 A440.00,440.00 0 0 1 505.36,118.83 L508.21,126.30 A432.00,432.00 0 0 0 505.09,127.51 Z" fill="#f46d43"/><path d="M505.36,118.83 A440.00,440.00 0 0 1 511.00,116.72 L513.75,124.24 A432.00,432.00 0 0 0 508.21,126.30 Z" fill="#d9ef8b"/><path d="M511.00,116.72 A440.00,440.00 0 0 1 537.03,108.12 L539.31,115.79 A432.00,432.00 0 0 0 513.75,124.24 Z" fill="#a6d96a"/><path d="M537.03,108.12 A440.00,440.00 0 0 1 546.94,105.31 L549.03,113.03 A432.00,432.00 0 0 0 539.31,115.79 Z" fill="#fee08b"/><path d="M546.94,105.31 A440.00,440.00 0 0 1 551.08,104.21 L553.10,111.95 A432.00,432.00 0 0 0 549.03,113.03 Z" fill="#1a9850"/><path d="M551.08,104.21 A440.00,440.00 0 0 1 558.54,102.34 L560.42,110.11 A432.00,432.00 0 0 0 553.10,111.95 Z" fill="#66bd63"/></g>
<g font-family="Liberation Sans, sans-serif" font-size="11.3" fill="#2a2a2a"><text x="661.2" y="81.0" transform="rotate(89.9 661.2 81.0)" text-anchor="end" dominant-baseline="central">0%</text><text x="945.2" y="181.6" transform="rotate(-50.9 945.2 181.6)" text-anchor="start" dominant-baseline="central">25%</text><text x="1101.7" y="438.9" transform="rotate(-11.7 1101.7 438.9)" text-anchor="start" dominant-baseline="central">50%</text><text x="1060.3" y="737.3" transform="rotate(27.5 1060.3 737.3)" text-anchor="start" dominant-baseline="central">75%</text><text x="839.6" y="942.4" transform="rotate(66.7 839.6 942.4)" text-anchor="start" dominant-baseline="central">100%</text><text x="804.5" y="955.8" transform="rotate(71.5 804.5 955.8)" text-anchor="start" dominant-baseline="central">0%</text><text x="742.1" y="971.8" transform="rotate(79.7 742.1 971.8)" text-anchor="start" dominant-baseline="central">25%</text><text x="678.1" y="978.7" transform="rotate(87.9 678.1 978.7)" text-anchor="start" dominant-baseline="central">50%</text><text x="613.7" y="976.4" transform="rotate(-83.8 613.7 976.4)" text-anchor="end" dominant-baseline="central">75%</text><text x="550.3" y="964.9" transform="rotate(-75.6 550.3 964.9)" text-anchor="end" dominant-baseline="central">100%</text><text x="515.1" y="954.3" transform="rotate(-70.9 515.1 954.3)" text-anchor="end" dominant-baseline="central">0%</text><text x="482.8" y="941.7" transform="rotate(-66.5 482.8 941.7)" text-anchor="end" dominant-baseline="central">25%</text><text x="451.6" y="926.6" transform="rotate(-62.1 451.6 926.6)" text-anchor="end" dominant-baseline="central">50%</text><text x="421.6" y="909.2" transform="rotate(-57.6 421.6 909.2)" text-anchor="end" dominant-baseline="central">75%</text><text x="393.0" y="889.5" transform="rotate(-53.2 393.0 889.5)" text-anchor="end" dominant-baseline="central">100%</text><text x="362.7" y="864.7" transform="rotate(-48.2 362.7 864.7)" text-anchor="end" dominant-baseline="central">0%</text><text x="336.3" y="839.1" transform="rotate(-43.5 336.3 839.1)" text-anchor="end" dominant-baseline="central">25%</text><text x="312.1" y="811.3" transform="rotate(-38.8 312.1 811.3)" text-anchor="end" dominant-baseline="central">50%</text><text x="290.2" y="781.7" transform="rotate(-34.1 290.2 781.7)" text-anchor="end" dominant-baseline="central">75%</text><text x="270.8" y="750.4" transform="rotate(-29.4 270.8 750.4)" text-anchor="end" dominant-baseline="central">100%</text><text x="253.4" y="716.2" transform="rotate(-24.5 253.4 716.2)" text-anchor="end" dominant-baseline="central">0%</text><text x="243.0" y="691.5" transform="rotate(-21.1 243.0 691.5)" text-anchor="end" dominant-baseline="central">25%</text><text x="234.1" y="666.1" transform="rotate(-17.7 234.1 666.1)" text-anchor="end" dominant-baseline="central">50%</text><text x="226.8" y="640.3" transform="rotate(-14.2 226.8 640.3)" text-anchor="end" dominant-baseline="central">75%</text><text x="221.0" y="614.1" transform="rotate(-10.8 221.0 614.1)" text-anchor="end" dominant-baseline="central">100%</text><text x="215.4" y="576.2" transform="rotate(-5.9 215.4 576.2)" text-anchor="end" dominant-baseline="central">0%</text><text x="215.0" y="487.6" transform="rotate(5.4 215.0 487.6)" text-anchor="end" dominant-baseline="central">25%</text><text x="232.1" y="400.6" transform="rotate(16.8 232.1 400.6)" text-anchor="end" dominant-baseline="central">50%</text><text x="265.8" y="318.7" transform="rotate(28.1 265.8 318.7)" text-anchor="end" dominant-baseline="central">75%</text><text x="315.0" y="245.0" transform="rotate(39.4 315.0 245.0)" text-anchor="end" dominant-baseline="central">100%</text><text x="340.7" y="216.4" transform="rotate(44.3 340.7 216.4)" text-anchor="end" dominant-baseline="central">0%</text><text x="367.0" y="191.5" transform="rotate(48.9 367.0 191.5)" text-anchor="end" dominant-baseline="central">25%</text><text x="395.2" y="168.8" transform="rotate(53.6 395.2 168.8)" text-anchor="end" dominant-baseline="central">50%</text><text x="425.2" y="148.5" transform="rotate(58.2 425.2 148.5)" text-anchor="end" dominant-baseline="central">75%</text><text x="456.8" y="130.7" transform="rotate(62.8 456.8 130.7)" text-anchor="end" dominant-baseline="central">100%</text><text x="491.6" y="114.6" transform="rotate(67.7 491.6 114.6)" text-anchor="end" dominant-baseline="central">0%</text><text x="523.6" y="102.9" transform="rotate(72.1 523.6 102.9)" text-anchor="end" dominant-baseline="central">25%</text><text x="556.4" y="93.6" transform="rotate(76.4 556.4 93.6)" text-anchor="end" dominant-baseline="central">50%</text><text x="589.8" y="86.8" transform="rotate(80.8 589.8 86.8)" text-anchor="end" dominant-baseline="central">75%</text><text x="623.6" y="82.6" transform="rotate(85.1 623.6 82.6)" text-anchor="end" dominant-baseline="central">100%</text></g>
<rect x="1198.6" y="415.5" width="1.4" height="2.5" fill="#9a9a9a"/>
<g font-family="Liberation Sans, sans-serif" font-size="19" fill="#111"><text x="1143.3" y="430.3" transform="rotate(78.3 1143.3 430.3)" text-anchor="middle" dominant-baseline="central">United-States</text><text x="679.7" y="1025.2" transform="rotate(-2.1 679.7 1025.2)" text-anchor="middle" dominant-baseline="central">Germany</text><text x="429.8" y="967.7" transform="rotate(27.9 429.8 967.7)" text-anchor="middle" dominant-baseline="central">Netherlands</text><text x="275.8" y="840.5" transform="rotate(51.2 275.8 840.5)" text-anchor="middle" dominant-baseline="central">Switzerland</text><text x="189.8" y="680.2" transform="rotate(72.3 189.8 680.2)" text-anchor="middle" dominant-baseline="central">Canada</text><text x="191.4" y="388.4" transform="rotate(-73.2 191.4 388.4)" text-anchor="middle" dominant-baseline="central">group1</text><text x="370.0" y="134.6" transform="rotate(-36.4 370.0 134.6)" text-anchor="middle" dominant-baseline="central">group2</text><text x="546.4" y="52.3" transform="rotate(-13.6 546.4 52.3)" text-anchor="middle" dominant-baseline="central">group3</text></g>
<g><path d="M131.82,584.79 A533.00,533.00 0 0 1 131.95,474.01 L140.90,474.95 A524.00,524.00 0 0 0 140.78,583.86 Z" fill="#fff5c0"/><path d="M131.95,474.01 A533.00,533.00 0 0 1 138.83,428.12 L147.66,429.84 A524.00,524.00 0 0 0 140.90,474.95 Z" fill="#999999"/><path d="M138.83,428.12 A533.00,533.00 0 0 1 166.94,332.49 L175.30,335.83 A524.00,524.00 0 0 0 147.66,429.84 Z" fill="#fff5c0"/><path d="M166.94,332.49 A533.00,533.00 0 0 1 224.97,224.89 L232.35,230.05 A524.00,524.00 0 0 0 175.30,335.83 Z" fill="#999999"/><path d="M224.97,224.89 A533.00,533.00 0 0 1 250.13,191.69 L257.09,197.40 A524.00,524.00 0 0 0 232.35,230.05 Z" fill="#fff5c0"/><path d="M280.54,157.74 A533.00,533.00 0 0 1 290.88,147.43 L297.14,153.89 A524.00,524.00 0 0 0 286.98,164.03 Z" fill="#fff5c0"/><path d="M290.88,147.43 A533.00,533.00 0 0 1 306.53,132.85 L312.53,139.55 A524.00,524.00 0 0 0 297.14,153.89 Z" fill="#999999"/><path d="M306.53,132.85 A533.00,533.00 0 0 1 332.97,110.68 L338.53,117.76 A524.00,524.00 0 0 0 312.53,139.55 Z" fill="#fff5c0"/><path d="M332.97,110.68 A533.00,533.00 0 0 1 344.44,101.93 L349.80,109.16 A524.00,524.00 0 0 0 338.53,117.76 Z" fill="#999999"/><path d="M344.44,101.93 A533.00,533.00 0 0 1 362.26,89.27 L367.32,96.71 A524.00,524.00 0 0 0 349.80,109.16 Z" fill="#fff5c0"/><path d="M362.26,89.27 A533.00,533.00 0 0 1 383.35,75.64 L388.05,83.31 A524.00,524.00 0 0 0 367.32,96.71 Z" fill="#999999"/><path d="M383.35,75.64 A533.00,533.00 0 0 1 395.02,68.69 L399.52,76.48 A524.00,524.00 0 0 0 388.05,83.31 Z" fill="#fff5c0"/><path d="M395.02,68.69 A533.00,533.00 0 0 1 418.37,55.94 L422.48,63.95 A524.00,524.00 0 0 0 399.52,76.48 Z" fill="#999999"/><path d="M459.67,36.90 A533.00,533.00 0 0 1 466.81,34.03 L470.10,42.40 A524.00,524.00 0 0 0 463.08,45.22 Z" fill="#fff5c0"/><path d="M466.81,34.03 A533.00,533.00 0 0 1 468.95,33.19 L472.21,41.58 A524.00,524.00 0 0 0 470.10,42.40 Z" fill="#999999"/><path d="M468.95,33.19 A533.00,533.00 0 0 1 471.09,32.36 L474.32,40.76 A524.00,524.00 0 0 0 472.21,41.58 Z" fill="#fff5c0"/><path d="M471.09,32.36 A533.00,533.00 0 0 1 471.81,32.09 L475.02,40.50 A524.00,524.00 0 0 0 474.32,40.76 Z" fill="#999999"/><path d="M471.81,32.09 A533.00,533.00 0 0 1 473.24,31.55 L476.42,39.96 A524.00,524.00 0 0 0 475.02,40.50 Z" fill="#fff5c0"/><path d="M473.24,31.55 A533.00,533.00 0 0 1 474.66,31.01 L477.83,39.43 A524.00,524.00 0 0 0 476.42,39.96 Z" fill="#999999"/><path d="M474.66,31.01 A533.00,533.00 0 0 1 480.38,28.90 L483.45,37.36 A524.00,524.00 0 0 0 477.83,39.43 Z" fill="#fff5c0"/><path d="M480.38,28.90 A533.00,533.00 0 0 1 481.81,28.38 L484.85,36.85 A524.00,524.00 0 0 0 483.45,37.36 Z" fill="#999999"/><path d="M481.81,28.38 A533.00,533.00 0 0 1 485.38,27.11 L488.36,35.61 A524.00,524.00 0 0 0 484.85,36.85 Z" fill="#fff5c0"/><path d="M485.38,27.11 A533.00,533.00 0 0 1 497.52,23.01 L500.30,31.57 A524.00,524.00 0 0 0 488.36,35.61 Z" fill="#999999"/><path d="M497.52,23.01 A533.00,533.00 0 0 1 498.95,22.55 L501.70,31.12 A524.00,524.00 0 0 0 500.30,31.57 Z" fill="#fff5c0"/><path d="M498.95,22.55 A533.00,533.00 0 0 1 500.38,22.10 L503.11,30.67 A524.00,524.00 0 0 0 501.70,31.12 Z" fill="#999999"/><path d="M500.38,22.10 A533.00,533.00 0 0 1 502.52,21.42 L505.21,30.01 A524.00,524.00 0 0 0 503.11,30.67 Z" fill="#fff5c0"/><path d="M502.52,21.42 A533.00,533.00 0 0 1 503.95,20.97 L506.62,29.57 A524.00,524.00 0 0 0 505.21,30.01 Z" fill="#999999"/><path d="M503.95,20.97 A533.00,533.00 0 0 1 512.52,18.39 L515.04,27.03 A524.00,524.00 0 0 0 506.62,29.57 Z" fill="#999999"/><path d="M512.52,18.39 A533.00,533.00 0 0 1 518.23,16.76 L520.66,25.42 A524.00,524.00 0 0 0 515.04,27.03 Z" fill="#fff5c0"/><path d="M518.23,16.76 A533.00,533.00 0 0 1 519.66,16.36 L522.07,25.03 A524.00,524.00 0 0 0 520.66,25.42 Z" fill="#999999"/><path d="M519.66,16.36 A533.00,533.00 0 0 1 521.81,15.77 L524.17,24.45 A524.00,524.00 0 0 0 522.07,25.03 Z" fill="#fff5c0"/><path d="M521.81,15.77 A533.00,533.00 0 0 1 526.80,14.43 L529.09,23.14 A524.00,524.00 0 0 0 524.17,24.45 Z" fill="#999999"/><path d="M526.80,14.43 A533.00,533.00 0 0 1 530.38,13.51 L532.60,22.23 A524.00,524.00 0 0 0 529.09,23.14 Z" fill="#fff5c0"/><path d="M530.38,13.51 A533.00,533.00 0 0 1 538.23,11.57 L540.32,20.32 A524.00,524.00 0 0 0 532.60,22.23 Z" fill="#999999"/><path d="M538.23,11.57 A533.00,533.00 0 0 1 540.38,11.06 L542.43,19.82 A524.00,524.00 0 0 0 540.32,20.32 Z" fill="#fff5c0"/><path d="M540.38,11.06 A533.00,533.00 0 0 1 548.23,9.28 L550.15,18.08 A524.00,524.00 0 0 0 542.43,19.82 Z" fill="#999999"/><path d="M548.23,9.28 A533.00,533.00 0 0 1 558.23,7.20 L559.98,16.03 A524.00,524.00 0 0 0 550.15,18.08 Z" fill="#fff5c0"/><path d="M558.23,7.20 A533.00,533.00 0 0 1 559.66,6.92 L561.39,15.75 A524.00,524.00 0 0 0 559.98,16.03 Z" fill="#999999"/><path d="M559.66,6.92 A533.00,533.00 0 0 1 566.09,5.70 L567.71,14.55 A524.00,524.00 0 0 0 561.39,15.75 Z" fill="#fff5c0"/><path d="M566.09,5.70 A533.00,533.00 0 0 1 567.52,5.44 L569.11,14.30 A524.00,524.00 0 0 0 567.71,14.55 Z" fill="#999999"/><path d="M567.52,5.44 A533.00,533.00 0 0 1 575.37,4.09 L576.84,12.97 A524.00,524.00 0 0 0 569.11,14.30 Z" fill="#fff5c0"/><path d="M575.37,4.09 A533.00,533.00 0 0 1 576.09,3.97 L577.54,12.85 A524.00,524.00 0 0 0 576.84,12.97 Z" fill="#999999"/><path d="M576.09,3.97 A533.00,533.00 0 0 1 582.52,2.96 L583.86,11.86 A524.00,524.00 0 0 0 577.54,12.85 Z" fill="#fff5c0"/><path d="M582.52,2.96 A533.00,533.00 0 0 1 583.94,2.75 L585.26,11.65 A524.00,524.00 0 0 0 583.86,11.86 Z" fill="#999999"/><path d="M583.94,2.75 A533.00,533.00 0 0 1 586.80,2.33 L588.07,11.24 A524.00,524.00 0 0 0 585.26,11.65 Z" fill="#fff5c0"/><path d="M586.80,2.33 A533.00,533.00 0 0 1 598.94,0.74 L600.01,9.68 A524.00,524.00 0 0 0 588.07,11.24 Z" fill="#999999"/><path d="M598.94,0.74 A533.00,533.00 0 0 1 600.37,0.57 L601.41,9.51 A524.00,524.00 0 0 0 600.01,9.68 Z" fill="#fff5c0"/><path d="M600.37,0.57 A533.00,533.00 0 0 1 608.94,-0.35 L609.84,8.60 A524.00,524.00 0 0 0 601.41,9.51 Z" fill="#999999"/><path d="M608.94,-0.35 A533.00,533.00 0 0 1 610.37,-0.49 L611.24,8.46 A524.00,524.00 0 0 0 609.84,8.60 Z" fill="#fff5c0"/><path d="M610.37,-0.49 A533.00,533.00 0 0 1 611.80,-0.63 L612.65,8.33 A524.00,524.00 0 0 0 611.24,8.46 Z" fill="#999999"/><path d="M611.80,-0.63 A533.00,533.00 0 0 1 616.09,-1.02 L616.86,7.95 A524.00,524.00 0 0 0 612.65,8.33 Z" fill="#fff5c0"/></g>
<g font-family="Liberation Sans, sans-serif" font-size="10.5" fill="#222"><text x="126.0" y="529.4" transform="rotate(0.1 126.0 529.4)" text-anchor="end" dominant-baseline="central">Russian-Federation</text><text x="131.9" y="450.5" transform="rotate(8.5 131.9 450.5)" text-anchor="end" dominant-baseline="central">Sweden</text><text x="147.8" y="378.8" transform="rotate(16.4 147.8 378.8)" text-anchor="end" dominant-baseline="central">France</text><text x="190.2" y="275.6" transform="rotate(28.3 190.2 275.6)" text-anchor="end" dominant-baseline="central">United-Kingdom</text><text x="234.8" y="206.2" transform="rotate(37.2 234.8 206.2)" text-anchor="end" dominant-baseline="central">China</text><text x="283.6" y="150.4" transform="rotate(45.1 283.6 150.4)" text-anchor="end" dominant-baseline="central">Spain</text><text x="296.6" y="137.9" transform="rotate(47.0 296.6 137.9)" text-anchor="end" dominant-baseline="central">Bulgaria</text><text x="317.6" y="119.2" transform="rotate(50.0 317.6 119.2)" text-anchor="end" dominant-baseline="central">Ukraine</text><text x="336.9" y="103.9" transform="rotate(52.7 336.9 103.9)" text-anchor="end" dominant-baseline="central">Australia</text><text x="351.5" y="93.1" transform="rotate(54.6 351.5 93.1)" text-anchor="end" dominant-baseline="central">Finland</text><text x="371.1" y="79.8" transform="rotate(57.1 371.1 79.8)" text-anchor="end" dominant-baseline="central">Norway</text><text x="387.6" y="69.5" transform="rotate(59.2 387.6 69.5)" text-anchor="end" dominant-baseline="central">Czech-Republic</text><text x="405.2" y="59.5" transform="rotate(61.4 405.2 59.5)" text-anchor="end" dominant-baseline="central">Poland</text></g>
</svg>
<div class="hr"></div>
<svg style="position:absolute;left:0;top:0" width="1200" height="1484" viewBox="0 0 1200 1484"><defs><clipPath id="lc"><rect x="0" y="1140" width="392" height="300"/></clipPath></defs><g clip-path="url(#lc)"><path d="M305.4,1184.2 L397.0,1197.0 L397.0,1216.2 L302.4,1205.7 L302.9,1202.1 L303.3,1198.5 L303.8,1195.0 L304.3,1191.4 L304.8,1187.8 Z" fill="#545454" stroke="#545454" stroke-width="2.4" stroke-linejoin="round"/><path d="M304.6,1196.5 Q350,1203 392,1211.7" stroke="#f46d43" stroke-width="1.2" fill="none"/><path d="M303.2,1199.7 L363,1209 L302.8,1202.5 Z" fill="#a6d96a"/><path d="M356,1202.3 L392,1203.6 L392,1205.6 Z" fill="#ffffff"/><path d="M302.4,1205.7 L397.0,1216.2 L397.0,1233.7 L300.5,1224.5 L300.8,1221.4 L301.1,1218.2 L301.4,1215.1 L301.7,1212.0 L302.1,1208.8 Z" fill="#d73027" stroke="#545454" stroke-width="2.4" stroke-linejoin="round"/><path d="M300.5,1224.5 L397.0,1233.7 L397.0,1281.3 L298.0,1281.8 L298.0,1272.2 L298.2,1262.7 L298.6,1253.2 L299.1,1243.6 L299.7,1234.0 Z" fill="#fee08b" stroke="#545454" stroke-width="2.4" stroke-linejoin="round"/><path d="M290.0,1282.0 L397.0,1281.5 L397.0,1299.3 L290.1,1292.0 L290.1,1290.3 L290.1,1288.7 L290.0,1287.0 L290.0,1285.3 L290.0,1283.7 Z" fill="#545454" stroke="#545454" stroke-width="2.4" stroke-linejoin="round"/><path d="M345,1287.6 L392,1286.4 L392,1288.4 Z" fill="#ffffff"/><path d="M290.1,1292.0 L397.0,1297.0 L397.0,1298.6 L290.4,1303.0 L290.4,1301.2 L290.3,1299.3 L290.2,1297.5 L290.2,1295.7 L290.2,1293.8 Z" fill="#fee08b" stroke="#545454" stroke-width="2.4" stroke-linejoin="round"/><path d="M290.2,1295.5 L392,1297.6 M290.3,1299 L392,1298.2" stroke="#545454" stroke-width="2" fill="none"/><path d="M290.5,1304.8 L397.0,1306.7 L397.0,1320.9 L291.3,1321.3 L291.2,1318.5 L291.0,1315.8 L290.9,1313.0 L290.7,1310.3 L290.6,1307.5 Z" fill="#fee08b" stroke="#545454" stroke-width="2.4" stroke-linejoin="round"/><path d="M291.3,1321.3 L397.0,1320.9 L397.0,1367.6 L297.9,1380.0 L296.5,1370.2 L295.1,1360.4 L294.0,1350.7 L292.9,1340.9 L292.1,1331.1 Z" fill="#fee08b" stroke="#545454" stroke-width="2.4" stroke-linejoin="round"/></g><path d="M264.25,1384.57 A667,667 0 0 1 263.76,1178.53 L297.37,1183.71 A633,633 0 0 0 297.83,1379.24 Z" fill="#fee08b" stroke="#545454" stroke-width="2.2"/><path d="M260.30,1385.20L245.48,1387.55 M256.77,1375.19L246.87,1376.61 M255.37,1364.85L245.45,1366.11 M254.13,1354.49L244.20,1355.59 M253.06,1344.11L243.11,1345.06 M254.14,1333.55L239.19,1334.75 M251.39,1323.30L241.42,1323.94 M250.80,1312.88L240.82,1313.37 M250.37,1302.45L240.38,1302.79 M250.11,1292.02L240.11,1292.20 M252.00,1281.58L237.00,1281.62 M250.06,1271.15L240.06,1271.02 M250.28,1260.72L240.28,1260.43 M250.66,1250.29L240.67,1249.84 M251.20,1239.86L241.22,1239.27 M253.90,1229.60L238.94,1228.48 M252.77,1219.05L242.81,1218.15 M253.79,1208.67L243.85,1207.61 M254.98,1198.30L245.05,1197.08 M256.33,1187.95L246.42,1186.58 M259.81,1177.93L244.98,1175.64" stroke="#000" stroke-width="2.4" stroke-linecap="round"/><path d="M204.61,1391.57 A727,727 0 0 1 204.38,1390.06 L218.22,1387.94 A713,713 0 0 0 218.45,1389.43 Z" fill="#d9ef8b"/><path d="M204.38,1390.06 A727,727 0 0 1 203.92,1387.03 L217.77,1384.97 A713,713 0 0 0 218.22,1387.94 Z" fill="#f46d43"/><path d="M203.92,1387.03 A727,727 0 0 1 203.40,1383.50 L217.26,1381.50 A713,713 0 0 0 217.77,1384.97 Z" fill="#fdae61"/><path d="M203.40,1383.50 A727,727 0 0 1 196.86,1315.34 L210.84,1314.66 A713,713 0 0 0 217.26,1381.50 Z" fill="#fee08b"/><path d="M196.86,1315.34 A727,727 0 0 1 196.10,1292.12 L210.10,1291.88 A713,713 0 0 0 210.84,1314.66 Z" fill="#d73027"/><path d="M196.10,1292.12 A727,727 0 0 1 196.02,1285.05 L210.02,1284.95 A713,713 0 0 0 210.10,1291.88 Z" fill="#a6d96a"/><path d="M196.02,1285.05 A727,727 0 0 1 196.00,1282.02 L210.00,1281.98 A713,713 0 0 0 210.02,1284.95 Z" fill="#66bd63"/><path d="M196.00,1282.02 A727,727 0 0 1 196.00,1279.50 L210.00,1279.50 A713,713 0 0 0 210.00,1281.98 Z" fill="#1a9850"/><path d="M225.60,1389.84 A706,706 0 0 1 225.16,1387.06 L239.00,1384.94 A692,692 0 0 0 239.43,1387.66 Z" fill="#d9ef8b"/><path d="M225.16,1387.06 A706,706 0 0 1 224.63,1383.53 L238.48,1381.47 A692,692 0 0 0 239.00,1384.94 Z" fill="#f46d43"/><path d="M224.63,1383.53 A706,706 0 0 1 224.19,1380.50 L238.05,1378.50 A692,692 0 0 0 238.48,1381.47 Z" fill="#fdae61"/><path d="M224.19,1380.50 A706,706 0 0 1 217.86,1314.85 L231.84,1314.15 A692,692 0 0 0 238.05,1378.50 Z" fill="#fee08b"/><path d="M217.86,1314.85 A706,706 0 0 1 217.18,1296.16 L231.18,1295.84 A692,692 0 0 0 231.84,1314.15 Z" fill="#d73027"/><path d="M217.18,1296.16 A706,706 0 0 1 217.05,1288.08 L231.05,1287.92 A692,692 0 0 0 231.18,1295.84 Z" fill="#a6d96a"/><path d="M217.05,1288.08 A706,706 0 0 1 217.02,1285.05 L231.02,1284.95 A692,692 0 0 0 231.05,1287.92 Z" fill="#66bd63"/><path d="M217.02,1285.05 A706,706 0 0 1 217.00,1282.53 L231.00,1282.47 A692,692 0 0 0 231.02,1284.95 Z" fill="#1a9850"/><g font-family="Liberation Sans, sans-serif" font-size="20.5" fill="#111"><text x="188.2" y="1396.6" transform="rotate(-9.02 188.2 1396.6)" text-anchor="end" dominant-baseline="central">0%</text><text x="181.4" y="1339.4" transform="rotate(-4.58 181.4 1339.4)" text-anchor="end" dominant-baseline="central">25%</text><text x="179.0" y="1281.8" transform="rotate(-0.13 179.0 1281.8)" text-anchor="end" dominant-baseline="central">50%</text><text x="181.1" y="1224.1" transform="rotate(4.31 181.1 1224.1)" text-anchor="end" dominant-baseline="central">75%</text><text x="187.7" y="1166.8" transform="rotate(8.75 187.7 1166.8)" text-anchor="end" dominant-baseline="central">100%</text></g></svg>
<svg style="position:absolute;left:0;top:0" width="1200" height="1484" viewBox="0 0 1200 1484"><g font-family="Liberation Serif, serif" fill="#111"><text x="10" y="1120" font-size="24.5" textLength="170" lengthAdjust="spacingAndGlyphs">A) Figure legend</text><text x="5" y="1255" font-size="22.2" textLength="98" lengthAdjust="spacingAndGlyphs">Percentage</text><text x="5" y="1275.5" font-size="22.2" textLength="107" lengthAdjust="spacingAndGlyphs">on the total</text><text x="5" y="1296.3" font-size="22.2" textLength="117" lengthAdjust="spacingAndGlyphs">amount, sent</text><text x="5" y="1316.7" font-size="22.2" textLength="116" lengthAdjust="spacingAndGlyphs">plus received</text><text x="402.5" y="1245" font-size="22.2" textLength="163.7" lengthAdjust="spacingAndGlyphs">Received amounts</text><text x="402.5" y="1326.2" font-size="22.2" textLength="127.2" lengthAdjust="spacingAndGlyphs">Send amounts</text><text x="206.7" y="1429.3" font-size="22.2" textLength="135.6" lengthAdjust="spacingAndGlyphs">Distribution of</text><text x="206.7" y="1450" font-size="22.2" textLength="161" lengthAdjust="spacingAndGlyphs">send and received</text><text x="206.7" y="1470.7" font-size="22.2" textLength="73.5" lengthAdjust="spacingAndGlyphs">amounts</text><text x="644.6" y="1119.9" font-size="25.5" textLength="431.9" lengthAdjust="spacingAndGlyphs">B) Top 8 countries for each group. For the</text><text x="644.6" y="1141.7" font-size="25.5" textLength="190.4" lengthAdjust="spacingAndGlyphs">full list see Table 8</text><text x="769.7" y="1202" font-size="22.2">group1</text><text x="946.4" y="1202" font-size="22.2">group2</text><text x="1071.9" y="1202" font-size="22.2">group3</text><text x="769.7" y="1243.3" font-size="22.2">United Kingdom</text><text x="769.7" y="1273" font-size="22.2">Russia</text><text x="769.7" y="1303.2" font-size="22.2">France</text><text x="769.7" y="1334" font-size="22.2">Sweden</text><text x="769.7" y="1361.6" font-size="22.2">China</text><text x="946.4" y="1243.3" font-size="22.2">Ukraine</text><text x="946.4" y="1273" font-size="22.2">Poland</text><text x="946.4" y="1303.2" font-size="22.2">Norway</text><text x="946.4" y="1334" font-size="22.2">Finland</text><text x="946.4" y="1361.6" font-size="22.2">Bulgaria</text><text x="946.4" y="1392" font-size="22.2">Austria</text><text x="946.4" y="1422.5" font-size="22.2">Spain</text><text x="946.4" y="1452.3" font-size="22.2">Slovenia</text><text x="1071.9" y="1243.3" font-size="22.2">Czech</text><text x="1071.9" y="1273" font-size="22.2">Lithuania</text><text x="1071.9" y="1303.2" font-size="22.2">Romania</text><text x="1071.9" y="1334" font-size="22.2">Hungary</text><text x="1071.9" y="1361.6" font-size="22.2">Austria</text><text x="1071.9" y="1392" font-size="22.2">Denmark</text><text x="1071.9" y="1422.5" font-size="22.2">Japan</text><text x="1071.9" y="1452.3" font-size="22.2">Belgium</text><text x="1071.9" y="1481.6" font-size="22.2">...</text></g><path d="M935.7,1173.6 V1484 M1062.9,1173.6 V1484" stroke="#bdbdbd" stroke-width="1.6"/><path d="M760.3,1214.6 H1174" stroke="#bdbdbd" stroke-width="1.6"/></svg>
</body></html>
